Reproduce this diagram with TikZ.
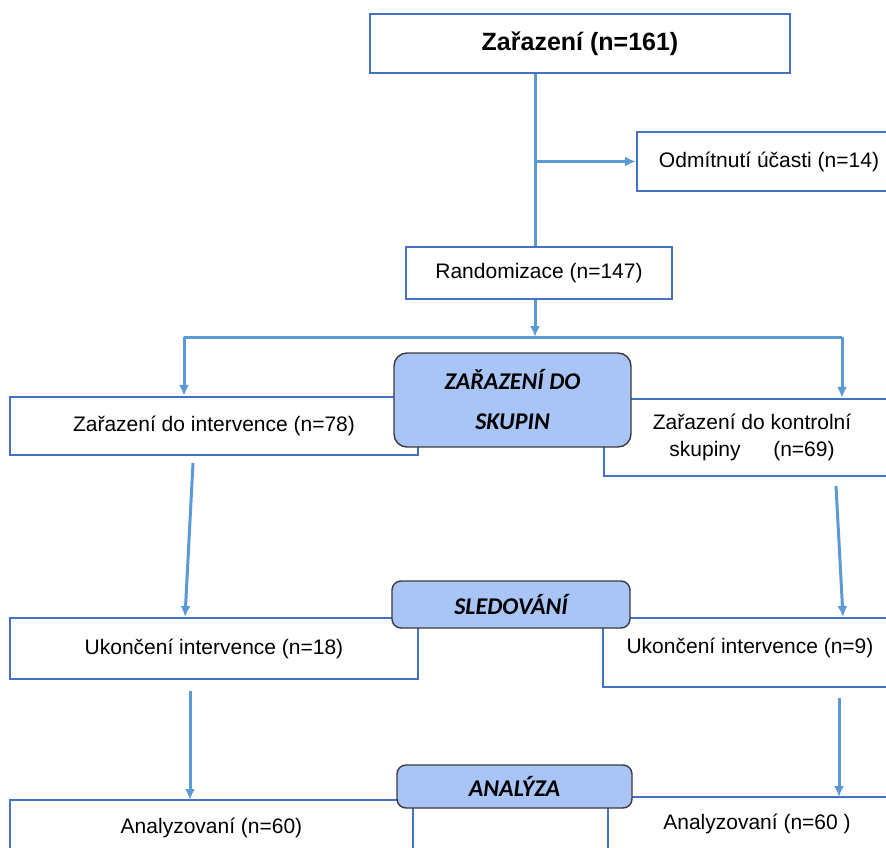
\documentclass[tikz,border=0pt]{standalone}
\usepackage{fontspec}
\setmainfont{Liberation Sans}
\newfontfamily\calfont{Carlito}
\usetikzlibrary{arrows.meta}
\definecolor{bordc}{HTML}{4472C4}
\definecolor{connc}{HTML}{5B9BD5}
\definecolor{labfill}{HTML}{A9C5F8}
\definecolor{labdraw}{HTML}{3A3A3A}
\tikzset{
  box/.style={draw=bordc, line width=2.2pt, rectangle, inner sep=0pt, align=center, fill=white,
    font=\fontsize{21}{26}\selectfont},
  line/.style={draw=connc, line width=3pt},
  arr/.style={line, -{Latex[length=11pt,width=10pt]}},
  lab/.style={draw=labdraw, line width=1.4pt, fill=labfill, rounded corners=9pt, inner sep=0pt,
    align=center, font=\calfont\bfseries\itshape\fontsize{24}{40}\selectfont}
}
\begin{document}
\begin{tikzpicture}[x=1pt,y=-1pt]
\useasboundingbox (0,0) rectangle (886,848);
\clip (0,0) rectangle (886,848);
% boxes
\node[box, minimum width=420pt, minimum height=59pt, font=\bfseries\fontsize{25}{30}\selectfont] (top) at (580,43.5) {Zařazení (n=161)};
\node[box, minimum width=264pt, minimum height=59pt] (odm) at (769,161.5) {Odmítnutí účasti (n=14)};
\node[box, minimum width=266pt, minimum height=52pt] (rand) at (539,273) {Randomizace (n=147)};
\node[box, minimum width=408pt, minimum height=58pt] (intL) at (214,426) {Zařazení do intervence (n=78)};
\node[box, minimum width=296pt, minimum height=77pt] (intR) at (752,437.5) {Zařazení do kontrolní\\[1pt]skupiny\quad\ \ (n=69)};
\node[box, minimum width=408pt, minimum height=61pt] (ukL) at (214,648.5) {Ukončení intervence (n=18)};
\node[box, minimum width=294pt, minimum height=69pt, text depth=14pt] (ukR) at (750,652.5) {Ukončení intervence (n=9)};
\node[box, minimum width=403pt, minimum height=56pt] (anL) at (211.5,828) {Analyzovaní (n=60)};
\node[box, minimum width=298pt, minimum height=54pt] (anR) at (757,824) {Analyzovaní (n=60 )};
% connectors
\coordinate (spine) at (535,0);
\coordinate (sL) at (184,337);
\coordinate (sR) at (842,337);
\draw[line] (top.south -| spine) -- (rand.north -| spine);
\draw[arr] (spine |- odm.west) -- (odm.west);
\draw[line] (sL) -- (sR);
\draw[arr] (rand.south -| spine) -- (spine |- sL);
\draw[arr] (sL) -- (sL |- intL.north);
\draw[arr] (sR) -- (sR |- intR.north);
\coordinate (a1s) at (193,463);
\coordinate (a1e) at (185,617);
\coordinate (a2s) at (836,486);
\coordinate (a2e) at (843,617);
\coordinate (a3s) at (190,691);
\coordinate (a3e) at (190,800);
\coordinate (a4s) at (839,698);
\coordinate (a4e) at (839,797);
\draw[arr] (a1s) -- (a1e);
\draw[arr] (a2s) -- (a2e);
\draw[arr] (a3s) -- (a3e);
\draw[arr] (a4s) -- (a4e);
% labels
\node[lab, minimum width=237pt, minimum height=94pt, rounded corners=13pt] (l1) at (512.5,400) {ZAŘAZENÍ DO\\SKUPIN};
\node[lab, minimum width=238pt, minimum height=47pt] (l2) at (511,604.5) {SLEDOVÁNÍ};
\node[lab, minimum width=235pt, minimum height=43pt] (l3) at (514.5,786.5) {ANALÝZA};
\end{tikzpicture}
\end{document}
